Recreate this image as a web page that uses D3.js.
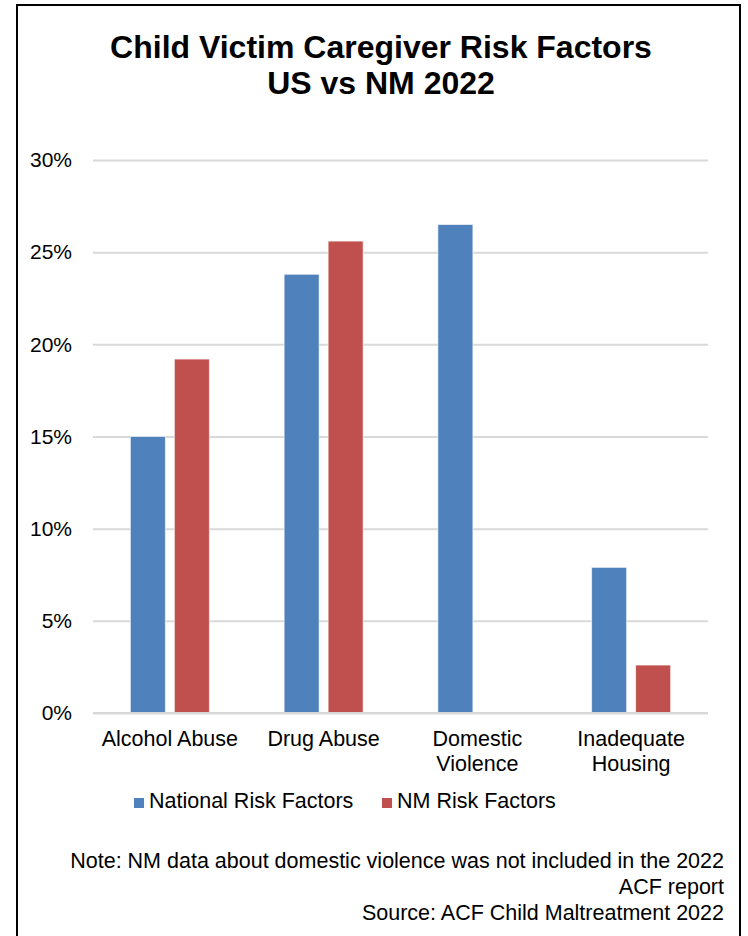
<!DOCTYPE html>
<html>
<head>
<meta charset="utf-8">
<script src="https://cdn.jsdelivr.net/npm/d3@7"></script>
<style>
  html, body { margin: 0; padding: 0; background: #fff; }
  svg { display: block; font-family: "Liberation Sans", Arial, sans-serif; }
</style>
</head>
<body>
<svg id="chart" width="748" height="936"></svg>
<script>
// Risk factor categories (label lines) and percentage values per series
const categories = ["Alcohol Abuse", "Drug Abuse", "Domestic Violence", "Inadequate Housing"];
const categoryLines = [["Alcohol Abuse"], ["Drug Abuse"], ["Domestic", "Violence"], ["Inadequate", "Housing"]];
const seriesNames = ["National Risk Factors", "NM Risk Factors"];
const nationalValues = [15.0, 23.8, 26.5, 7.9];
const nmValues = [19.2, 25.6, null, 2.6];
const yTicks = [0, 5, 10, 15, 20, 25, 30];
const titleLines = ["Child Victim Caregiver Risk Factors", "US vs NM 2022"];
const noteLines = [
  "Note: NM data about domestic violence was not included in the 2022",
  "ACF report",
  "Source: ACF Child Maltreatment 2022"
];
const colors = ["#4F81BD", "#C0504D"];

const svg = d3.select("#chart");

// Outer frame
svg.append("rect")
  .attr("x", 17).attr("y", 5)
  .attr("width", 723).attr("height", 940)
  .attr("fill", "#fff").attr("stroke", "#000").attr("stroke-width", 2);

// Title
svg.append("g").selectAll("text").data(titleLines).join("text")
  .attr("x", 381).attr("y", (d, i) => 58 + i * 36)
  .attr("text-anchor", "middle")
  .attr("font-size", 32).attr("font-weight", "bold").attr("fill", "#000")
  .text(d => d);

const plot = { left: 93, right: 708, top: 160, bottom: 713 };

const x = d3.scaleBand().domain(categories).range([plot.left, plot.right]);
const y = d3.scaleLinear().domain([0, 30]).range([plot.bottom, plot.top]);

// Gridlines and y axis
const yAxis = d3.axisLeft(y)
  .tickValues(yTicks)
  .tickSize(-(plot.right - plot.left))
  .tickPadding(21)
  .tickFormat(d => d + "%");

const gy = svg.append("g")
  .attr("transform", `translate(${plot.left},0)`)
  .call(yAxis);
gy.select(".domain").remove();
gy.selectAll(".tick line").attr("stroke", "#d9d9d9").attr("stroke-width", 2);
gy.selectAll(".tick text")
  .attr("font-size", 21).attr("fill", "#000")
  .attr("font-family", "Liberation Sans, Arial, sans-serif");

// Grouped bars
const groupWidth = 79;
const inner = d3.scaleBand().domain([0, 1]).range([0, groupWidth]).paddingInner(9 / 44);

const series = [nationalValues, nmValues];
series.forEach((vals, si) => {
  svg.append("g").selectAll("rect")
    .data(categories.map((c, i) => ({ c, v: vals[i] })).filter(d => d.v != null))
    .join("rect")
    .attr("x", d => x(d.c) + (x.bandwidth() - groupWidth) / 2 + inner(si))
    .attr("y", d => y(d.v))
    .attr("width", inner.bandwidth())
    .attr("height", d => y(0) - y(d.v))
    .attr("fill", colors[si])
    .attr("stroke", "#fff").attr("stroke-opacity", 0.6).attr("stroke-width", 1);
});

// Baseline
svg.append("line")
  .attr("x1", plot.left).attr("x2", plot.right)
  .attr("y1", y(0)).attr("y2", y(0))
  .attr("stroke", "#d9d9d9").attr("stroke-width", 2);

// Category labels
const cat = svg.append("g");
categoryLines.forEach((lines, i) => {
  cat.append("text")
    .attr("x", x(categories[i]) + x.bandwidth() / 2)
    .attr("y", 746)
    .attr("text-anchor", "middle")
    .attr("font-size", 21.5).attr("fill", "#000")
    .selectAll("tspan").data(lines).join("tspan")
    .attr("x", x(categories[i]) + x.bandwidth() / 2)
    .attr("dy", (d, j) => j === 0 ? 0 : 25)
    .text(d => d);
});

// Legend
const legendX = [134, 382];
const legend = svg.append("g");
seriesNames.forEach((name, i) => {
  legend.append("rect")
    .attr("x", legendX[i]).attr("y", 798)
    .attr("width", 10).attr("height", 10)
    .attr("fill", colors[i]);
  legend.append("text")
    .attr("x", legendX[i] + 15).attr("y", 808)
    .attr("font-size", 21.5).attr("fill", "#000")
    .text(name);
});

// Footnote
svg.append("g").selectAll("text").data(noteLines).join("text")
  .attr("x", 724).attr("y", (d, i) => 868 + i * 26)
  .attr("text-anchor", "end")
  .attr("font-size", 21.5).attr("fill", "#000")
  .text(d => d);
</script>
</body>
</html>
